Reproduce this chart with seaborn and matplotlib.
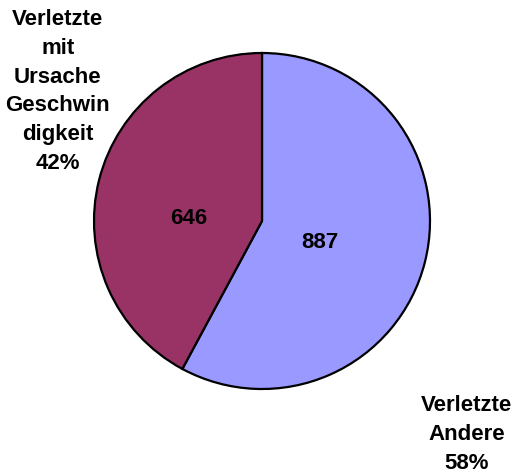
import matplotlib
matplotlib.use("Agg")
import matplotlib.pyplot as plt
import seaborn as sns

categories = ["Verletzte\nAndere", "Verletzte\nmit\nUrsache\nGeschwin\ndigkeit"]
values = [887, 646]
colors = ["#9999FF", "#993366"]

sns.set_style("white")
plt.rcParams["font.family"] = ["Liberation Sans", "DejaVu Sans"]

fig = plt.figure(figsize=(5.17, 4.72), dpi=100)
# pie centred at (262, 221) px, radius 167 px
cx, cy, r = 262, 221, 168
W, H = 517, 472
ax = fig.add_axes([(cx - r) / W, (H - cy - r) / H, 2 * r / W, 2 * r / H])

wedges, _ = ax.pie(
    values,
    colors=sns.color_palette(colors),
    startangle=90,
    counterclock=False,
    wedgeprops={"edgecolor": "black", "linewidth": 1.6, "clip_on": False},
)
ax.set_xlim(-1, 1)
ax.set_ylim(-1, 1)
ax.set_aspect("equal")
ax.axis("off")

total = sum(values)
pct = [f"{round(v / total * 100)}%" for v in values]

fs = 16
kw = dict(ha="center", va="center", fontsize=fs, fontweight="bold",
          color="black", clip_on=False)
# values inside slices
ax.text(0.344, -0.129, str(values[0]), **kw)
ax.text(-0.434, 0.012, str(values[1]), **kw)

# outer labels
ax.text(1.22, -1.27, categories[0] + "\n" + pct[0], linespacing=1.48, **kw)
ax.text(-1.215, 0.77, categories[1] + "\n" + pct[1], linespacing=1.48, **kw)

fig.savefig("out.png", dpi=100)
